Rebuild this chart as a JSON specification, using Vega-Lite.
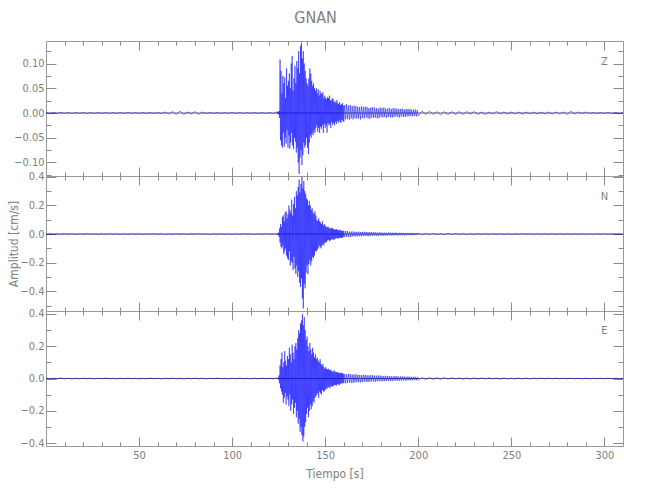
{
"$schema":"https://vega.github.io/schema/vega-lite/v6.json",
"padding":{"left":6,"top":10,"right":5,"bottom":5},
"title":{"text":"GNAN","fontSize":16,"fontWeight":"normal","color":"#808080","font":"DejaVu Sans Condensed, DejaVu Sans, sans-serif","anchor":"middle","offset":14},
"datasets":{"wave":[
{"t":0,"z":0.001,"n":-0.003,"e":0.002},{"t":2,"z":-0.001,"n":0.002,"e":-0.003},{"t":4,"z":0.001,"n":-0.003,"e":0.002},{"t":6,"z":-0.001,"n":0.002,"e":-0.002},{"t":8,"z":0.001,"n":-0.002,"e":0.003},{"t":10,"z":-0.001,"n":0.003,"e":-0.002},{"t":12,"z":0.001,"n":-0.002,"e":0.002},{"t":14,"z":-0.001,"n":0.002,"e":-0.003},{"t":16,"z":0.001,"n":-0.003,"e":0.002},{"t":18,"z":-0.001,"n":0.002,"e":-0.002},{"t":20,"z":0.001,"n":-0.002,"e":0.003},{"t":22,"z":-0.001,"n":0.003,"e":-0.002},{"t":24,"z":0.001,"n":-0.002,"e":0.002},{"t":26,"z":-0.001,"n":0.002,"e":-0.003},{"t":28,"z":0.001,"n":-0.003,"e":0.002},{"t":30,"z":-0.001,"n":0.002,"e":-0.002},{"t":32,"z":0.001,"n":-0.002,"e":0.003},{"t":34,"z":-0.001,"n":0.003,"e":-0.002},{"t":36,"z":0.001,"n":-0.002,"e":0.002},{"t":38,"z":-0.001,"n":0.002,"e":-0.003},{"t":40,"z":0.001,"n":-0.003,"e":0.002},{"t":42,"z":-0.001,"n":0.002,"e":-0.002},{"t":44,"z":0.001,"n":-0.002,"e":0.003},{"t":46,"z":-0.001,"n":0.003,"e":-0.002},{"t":48,"z":0.001,"n":-0.002,"e":0.002},{"t":50,"z":-0.001,"n":0.002,"e":-0.003},{"t":52,"z":0.001,"n":-0.003,"e":0.002},{"t":54,"z":-0.001,"n":0.002,"e":-0.002},{"t":56,"z":0.001,"n":-0.002,"e":0.003},{"t":58,"z":-0.001,"n":0.003,"e":-0.002},{"t":60,"z":0.001,"n":-0.002,"e":0.002},{"t":62,"z":-0.001,"n":0.002,"e":-0.003},{"t":64,"z":0.002,"n":-0.003,"e":0.002},{"t":66,"z":-0.002,"n":0.002,"e":-0.002},{"t":68,"z":0.003,"n":-0.002,"e":0.003},{"t":70,"z":-0.003,"n":0.003,"e":-0.002},{"t":72,"z":0.004,"n":-0.002,"e":0.002},{"t":74,"z":-0.003,"n":0.002,"e":-0.003},{"t":76,"z":0.002,"n":-0.003,"e":0.002},{"t":78,"z":-0.002,"n":0.002,"e":-0.002},{"t":80,"z":0.003,"n":-0.002,"e":0.003},{"t":82,"z":-0.003,"n":0.003,"e":-0.002},{"t":84,"z":0.002,"n":-0.002,"e":0.002},{"t":86,"z":-0.001,"n":0.002,"e":-0.003},{"t":88,"z":0.001,"n":-0.003,"e":0.002},{"t":90,"z":-0.001,"n":0.002,"e":-0.002},{"t":92,"z":0.001,"n":-0.002,"e":0.003},{"t":94,"z":-0.001,"n":0.003,"e":-0.002},{"t":96,"z":0.001,"n":-0.002,"e":0.002},{"t":98,"z":-0.001,"n":0.002,"e":-0.003},{"t":100,"z":0.001,"n":-0.003,"e":0.002},{"t":102,"z":-0.001,"n":0.002,"e":-0.002},{"t":104,"z":0.001,"n":-0.002,"e":0.003},{"t":106,"z":-0.001,"n":0.003,"e":-0.002},{"t":108,"z":0.001,"n":-0.002,"e":0.002},{"t":110,"z":-0.001,"n":0.002,"e":-0.003},{"t":112,"z":0.001,"n":-0.003,"e":0.002},{"t":114,"z":-0.001,"n":0.002,"e":-0.002},{"t":116,"z":0.001,"n":-0.002,"e":0.003},{"t":118,"z":-0.001,"n":0.003,"e":-0.002},{"t":120,"z":0.001,"n":-0.002,"e":0.002},{"t":122,"z":-0.001,"n":0.002,"e":-0.003},{"t":124,"z":0.002,"n":-0.003,"e":0.003},
{"t":124.25,"z":0.002,"n":-0.004,"e":0.003},{"t":124.5,"z":-0.002,"n":0.005,"e":-0.004},{"t":124.75,"z":0.003,"n":-0.006,"e":0.005},{"t":125,"z":-0.003,"n":0.01,"e":-0.008},{"t":125.25,"z":0.004,"n":-0.02,"e":0.02},{"t":125.5,"z":-0.01,"n":0.04,"e":-0.03},
{"t":125.75,"z":0.108,"n":-0.06,"e":0.08},{"t":126,"z":-0.055,"n":0.07,"e":-0.06},{"t":126.25,"z":0.085,"n":-0.09,"e":0.12},{"t":126.5,"z":-0.065,"n":0.05,"e":-0.08},{"t":126.75,"z":0.04,"n":-0.1,"e":0.16},{"t":127,"z":-0.07,"n":0.12,"e":-0.1},{"t":127.25,"z":0.075,"n":-0.08,"e":0.07},{"t":127.5,"z":-0.04,"n":0.13,"e":-0.15},{"t":127.75,"z":0.06,"n":-0.14,"e":0.1},{"t":128,"z":-0.068,"n":0.09,"e":-0.12},{"t":128.25,"z":0.072,"n":-0.12,"e":0.17},{"t":128.5,"z":-0.05,"n":0.15,"e":-0.09},{"t":128.75,"z":0.03,"n":-0.1,"e":0.11},{"t":129,"z":-0.062,"n":0.16,"e":-0.16},{"t":129.25,"z":0.09,"n":-0.15,"e":0.08},{"t":129.5,"z":-0.035,"n":0.11,"e":-0.11},{"t":129.75,"z":0.055,"n":-0.17,"e":0.14},{"t":130,"z":-0.07,"n":0.14,"e":-0.13},
{"t":130.25,"z":0.065,"n":-0.18,"e":0.12},{"t":130.5,"z":-0.045,"n":0.2,"e":-0.17},{"t":130.75,"z":0.08,"n":-0.12,"e":0.19},{"t":131,"z":-0.072,"n":0.17,"e":-0.1},{"t":131.25,"z":0.05,"n":-0.22,"e":0.15},{"t":131.5,"z":-0.06,"n":0.15,"e":-0.2},{"t":131.75,"z":0.1,"n":-0.19,"e":0.1},{"t":132,"z":-0.04,"n":0.24,"e":-0.16},{"t":132.25,"z":0.115,"n":-0.2,"e":0.21},{"t":132.5,"z":-0.066,"n":0.13,"e":-0.13},{"t":132.75,"z":0.045,"n":-0.25,"e":0.16},{"t":133,"z":-0.073,"n":0.21,"e":-0.22},{"t":133.25,"z":0.07,"n":-0.16,"e":0.12},{"t":133.5,"z":-0.05,"n":0.26,"e":-0.18},{"t":133.75,"z":0.095,"n":-0.24,"e":0.2},{"t":134,"z":-0.058,"n":0.18,"e":-0.15},{"t":134.25,"z":0.06,"n":-0.28,"e":0.22},{"t":134.5,"z":-0.08,"n":0.3,"e":-0.24},{"t":134.75,"z":0.105,"n":-0.22,"e":0.18},{"t":135,"z":-0.07,"n":0.27,"e":-0.2},
{"t":135.25,"z":0.09,"n":-0.3,"e":0.25},{"t":135.5,"z":-0.1,"n":0.33,"e":-0.28},{"t":135.75,"z":0.125,"n":-0.26,"e":0.3},{"t":136,"z":-0.123,"n":0.38,"e":-0.25},{"t":136.25,"z":0.08,"n":-0.34,"e":0.28},{"t":136.5,"z":-0.09,"n":0.29,"e":-0.33},{"t":136.75,"z":0.135,"n":-0.37,"e":0.34},{"t":137,"z":-0.075,"n":0.35,"e":-0.3},{"t":137.25,"z":0.142,"n":-0.31,"e":0.36},{"t":137.5,"z":-0.105,"n":0.4,"e":-0.35},{"t":137.75,"z":0.11,"n":-0.45,"e":0.4},{"t":138,"z":-0.085,"n":0.32,"e":-0.39},{"t":138.25,"z":0.125,"n":-0.52,"e":0.33},{"t":138.5,"z":-0.06,"n":0.37,"e":-0.36},{"t":138.75,"z":0.1,"n":-0.35,"e":0.38},{"t":139,"z":-0.07,"n":0.3,"e":-0.3},{"t":139.25,"z":0.085,"n":-0.38,"e":0.3},{"t":139.5,"z":-0.065,"n":0.28,"e":-0.27},
{"t":139.75,"z":0.07,"n":-0.27,"e":0.24},{"t":140,"z":-0.05,"n":0.25,"e":-0.22},{"t":140.25,"z":0.06,"n":-0.22,"e":0.26},{"t":140.5,"z":-0.07,"n":0.24,"e":-0.18},{"t":140.75,"z":0.055,"n":-0.28,"e":0.2},{"t":141,"z":-0.083,"n":0.2,"e":-0.24},{"t":141.25,"z":0.07,"n":-0.21,"e":0.17},{"t":141.5,"z":-0.06,"n":0.23,"e":-0.2},{"t":141.75,"z":0.09,"n":-0.18,"e":0.22},{"t":142,"z":-0.045,"n":0.2,"e":-0.16},{"t":142.25,"z":0.08,"n":-0.22,"e":0.18},{"t":142.5,"z":-0.05,"n":0.17,"e":-0.19},{"t":142.75,"z":0.065,"n":-0.19,"e":0.15},{"t":143,"z":-0.04,"n":0.18,"e":-0.17},{"t":143.25,"z":0.055,"n":-0.16,"e":0.19},{"t":143.5,"z":-0.045,"n":0.15,"e":-0.14},{"t":143.75,"z":0.06,"n":-0.17,"e":0.16},{"t":144,"z":-0.035,"n":0.14,"e":-0.15},{"t":144.25,"z":0.05,"n":-0.15,"e":0.13},{"t":144.5,"z":-0.04,"n":0.16,"e":-0.12},{"t":144.75,"z":0.045,"n":-0.12,"e":0.15},{"t":145,"z":-0.03,"n":0.13,"e":-0.11},
{"t":145.25,"z":0.05,"n":-0.12,"e":0.12},{"t":145.5,"z":-0.025,"n":0.1,"e":-0.1},{"t":145.75,"z":0.04,"n":-0.11,"e":0.13},{"t":146,"z":-0.038,"n":0.09,"e":-0.09},{"t":146.25,"z":0.048,"n":-0.1,"e":0.11},{"t":146.5,"z":-0.03,"n":0.11,"e":-0.12},{"t":146.75,"z":0.035,"n":-0.08,"e":0.1},{"t":147,"z":-0.04,"n":0.09,"e":-0.08},{"t":147.25,"z":0.045,"n":-0.09,"e":0.12},{"t":147.5,"z":-0.028,"n":0.08,"e":-0.09},{"t":147.75,"z":0.04,"n":-0.1,"e":0.09},{"t":148,"z":-0.032,"n":0.07,"e":-0.1},{"t":148.25,"z":0.038,"n":-0.08,"e":0.08},{"t":148.5,"z":-0.025,"n":0.09,"e":-0.07},{"t":148.75,"z":0.042,"n":-0.07,"e":0.09},{"t":149,"z":-0.04,"n":0.06,"e":-0.08},{"t":149.25,"z":0.03,"n":-0.08,"e":0.07},{"t":149.5,"z":-0.022,"n":0.07,"e":-0.08},{"t":149.75,"z":0.035,"n":-0.06,"e":0.06},{"t":150,"z":-0.03,"n":0.06,"e":-0.07},
{"t":150.25,"z":0.03,"n":-0.06,"e":0.07},{"t":150.5,"z":-0.025,"n":0.05,"e":-0.06},{"t":150.75,"z":0.028,"n":-0.055,"e":0.06},{"t":151,"z":-0.04,"n":0.05,"e":-0.065},{"t":151.25,"z":0.032,"n":-0.045,"e":0.055},{"t":151.5,"z":-0.02,"n":0.05,"e":-0.05},{"t":151.75,"z":0.03,"n":-0.04,"e":0.06},{"t":152,"z":-0.025,"n":0.045,"e":-0.055},{"t":152.25,"z":0.035,"n":-0.05,"e":0.05},{"t":152.5,"z":-0.022,"n":0.04,"e":-0.06},{"t":152.75,"z":0.026,"n":-0.045,"e":0.055},{"t":153,"z":-0.03,"n":0.038,"e":-0.045},{"t":153.25,"z":0.025,"n":-0.04,"e":0.05},{"t":153.5,"z":-0.018,"n":0.045,"e":-0.05},{"t":153.75,"z":0.03,"n":-0.035,"e":0.045},{"t":154,"z":-0.024,"n":0.04,"e":-0.05},{"t":154.25,"z":0.028,"n":-0.038,"e":0.04},{"t":154.5,"z":-0.02,"n":0.035,"e":-0.045},{"t":154.75,"z":0.022,"n":-0.04,"e":0.05},{"t":155,"z":-0.025,"n":0.03,"e":-0.04},{"t":155.25,"z":0.024,"n":-0.035,"e":0.045},{"t":155.5,"z":-0.018,"n":0.032,"e":-0.04},{"t":155.75,"z":0.02,"n":-0.03,"e":0.038},{"t":156,"z":-0.022,"n":0.035,"e":-0.045},{"t":156.25,"z":0.026,"n":-0.028,"e":0.04},{"t":156.5,"z":-0.016,"n":0.03,"e":-0.035},{"t":156.75,"z":0.02,"n":-0.032,"e":0.04},{"t":157,"z":-0.02,"n":0.026,"e":-0.038},{"t":157.25,"z":0.018,"n":-0.03,"e":0.035},{"t":157.5,"z":-0.015,"n":0.028,"e":-0.04},{"t":157.75,"z":0.022,"n":-0.025,"e":0.032},{"t":158,"z":-0.018,"n":0.03,"e":-0.035},{"t":158.25,"z":0.016,"n":-0.026,"e":0.036},{"t":158.5,"z":-0.02,"n":0.024,"e":-0.03},{"t":158.75,"z":0.018,"n":-0.028,"e":0.034},{"t":159,"z":-0.014,"n":0.022,"e":-0.03},{"t":159.25,"z":0.02,"n":-0.025,"e":0.032},{"t":159.5,"z":-0.016,"n":0.024,"e":-0.028},{"t":159.75,"z":0.015,"n":-0.02,"e":0.03},{"t":160,"z":-0.018,"n":0.022,"e":-0.03},
{"t":160.5,"z":0.016,"n":-0.02,"e":0.028},{"t":161,"z":-0.013,"n":0.022,"e":-0.03},{"t":161.5,"z":0.018,"n":-0.018,"e":0.026},{"t":162,"z":-0.012,"n":0.02,"e":-0.028},{"t":162.5,"z":0.015,"n":-0.019,"e":0.03},{"t":163,"z":-0.014,"n":0.017,"e":-0.025},{"t":163.5,"z":0.016,"n":-0.02,"e":0.027},{"t":164,"z":-0.011,"n":0.018,"e":-0.026},{"t":164.5,"z":0.014,"n":-0.016,"e":0.024},{"t":165,"z":-0.013,"n":0.018,"e":-0.027},{"t":165.5,"z":0.015,"n":-0.017,"e":0.025},{"t":166,"z":-0.01,"n":0.016,"e":-0.024},{"t":166.5,"z":0.014,"n":-0.018,"e":0.026},{"t":167,"z":-0.012,"n":0.015,"e":-0.022},{"t":167.5,"z":0.013,"n":-0.016,"e":0.024},{"t":168,"z":-0.011,"n":0.017,"e":-0.023},{"t":168.5,"z":0.012,"n":-0.015,"e":0.022},{"t":169,"z":-0.013,"n":0.014,"e":-0.024},{"t":169.5,"z":0.014,"n":-0.016,"e":0.021},{"t":170,"z":-0.01,"n":0.015,"e":-0.022},{"t":170.5,"z":0.012,"n":-0.014,"e":0.023},{"t":171,"z":-0.011,"n":0.016,"e":-0.02},{"t":171.5,"z":0.013,"n":-0.013,"e":0.022},{"t":172,"z":-0.009,"n":0.015,"e":-0.021},{"t":172.5,"z":0.012,"n":-0.014,"e":0.02},{"t":173,"z":-0.011,"n":0.013,"e":-0.022},{"t":173.5,"z":0.01,"n":-0.015,"e":0.019},{"t":174,"z":-0.012,"n":0.014,"e":-0.02},{"t":174.5,"z":0.011,"n":-0.012,"e":0.021},{"t":175,"z":-0.009,"n":0.013,"e":-0.018},{"t":175.5,"z":0.012,"n":-0.012,"e":0.02},{"t":176,"z":-0.01,"n":0.014,"e":-0.019},{"t":176.5,"z":0.011,"n":-0.011,"e":0.018},{"t":177,"z":-0.009,"n":0.012,"e":-0.02},{"t":177.5,"z":0.01,"n":-0.013,"e":0.017},{"t":178,"z":-0.011,"n":0.011,"e":-0.018},{"t":178.5,"z":0.009,"n":-0.012,"e":0.019},{"t":179,"z":-0.01,"n":0.012,"e":-0.016},{"t":179.5,"z":0.011,"n":-0.01,"e":0.018},{"t":180,"z":-0.008,"n":0.011,"e":-0.017},{"t":180.5,"z":0.01,"n":-0.011,"e":0.016},{"t":181,"z":-0.009,"n":0.01,"e":-0.017},{"t":181.5,"z":0.011,"n":-0.012,"e":0.015},{"t":182,"z":-0.008,"n":0.01,"e":-0.016},{"t":182.5,"z":0.009,"n":-0.011,"e":0.017},{"t":183,"z":-0.01,"n":0.009,"e":-0.015},{"t":183.5,"z":0.009,"n":-0.01,"e":0.016},{"t":184,"z":-0.008,"n":0.011,"e":-0.014},{"t":184.5,"z":0.01,"n":-0.009,"e":0.015},{"t":185,"z":-0.009,"n":0.01,"e":-0.016},{"t":185.5,"z":0.008,"n":-0.01,"e":0.014},{"t":186,"z":-0.009,"n":0.009,"e":-0.015},{"t":186.5,"z":0.01,"n":-0.01,"e":0.013},{"t":187,"z":-0.008,"n":0.009,"e":-0.014},{"t":187.5,"z":0.009,"n":-0.008,"e":0.015},{"t":188,"z":-0.007,"n":0.01,"e":-0.013},{"t":188.5,"z":0.009,"n":-0.009,"e":0.014},{"t":189,"z":-0.008,"n":0.008,"e":-0.013},{"t":189.5,"z":0.008,"n":-0.009,"e":0.012},{"t":190,"z":-0.009,"n":0.009,"e":-0.014},{"t":190.5,"z":0.008,"n":-0.008,"e":0.013},{"t":191,"z":-0.007,"n":0.009,"e":-0.012},{"t":191.5,"z":0.009,"n":-0.008,"e":0.013},{"t":192,"z":-0.008,"n":0.008,"e":-0.012},{"t":192.5,"z":0.007,"n":-0.009,"e":0.012},{"t":193,"z":-0.008,"n":0.007,"e":-0.013},{"t":193.5,"z":0.008,"n":-0.008,"e":0.011},{"t":194,"z":-0.007,"n":0.008,"e":-0.012},{"t":194.5,"z":0.008,"n":-0.007,"e":0.012},{"t":195,"z":-0.007,"n":0.008,"e":-0.011},{"t":195.5,"z":0.008,"n":-0.007,"e":0.011},{"t":196,"z":-0.006,"n":0.007,"e":-0.012},{"t":196.5,"z":0.007,"n":-0.008,"e":0.01},{"t":197,"z":-0.007,"n":0.007,"e":-0.011},{"t":197.5,"z":0.007,"n":-0.007,"e":0.011},{"t":198,"z":-0.006,"n":0.008,"e":-0.01},{"t":198.5,"z":0.007,"n":-0.006,"e":0.01},{"t":199,"z":-0.007,"n":0.007,"e":-0.011},{"t":199.5,"z":0.006,"n":-0.007,"e":0.01},{"t":200,"z":-0.006,"n":0.006,"e":-0.01},
{"t":202,"z":0.004,"n":-0.005,"e":0.006},{"t":204,"z":-0.003,"n":0.004,"e":-0.006},{"t":206,"z":0.004,"n":-0.004,"e":0.005},{"t":208,"z":-0.003,"n":0.005,"e":-0.006},{"t":210,"z":0.003,"n":-0.004,"e":0.005},{"t":212,"z":-0.004,"n":0.003,"e":-0.005},{"t":214,"z":0.003,"n":-0.004,"e":0.005},{"t":216,"z":-0.003,"n":0.004,"e":-0.004},{"t":218,"z":0.003,"n":-0.003,"e":0.005},{"t":220,"z":-0.003,"n":0.004,"e":-0.004},{"t":222,"z":0.003,"n":-0.003,"e":0.004},{"t":224,"z":-0.003,"n":0.003,"e":-0.005},{"t":226,"z":0.003,"n":-0.004,"e":0.004},{"t":228,"z":-0.002,"n":0.003,"e":-0.004},{"t":230,"z":0.003,"n":-0.003,"e":0.004},{"t":232,"z":-0.003,"n":0.003,"e":-0.004},{"t":234,"z":0.002,"n":-0.003,"e":0.004},{"t":236,"z":-0.003,"n":0.003,"e":-0.003},{"t":238,"z":0.002,"n":-0.003,"e":0.004},{"t":240,"z":-0.002,"n":0.003,"e":-0.003},{"t":242,"z":0.003,"n":-0.002,"e":0.003},{"t":244,"z":-0.002,"n":0.003,"e":-0.004},{"t":246,"z":0.002,"n":-0.003,"e":0.003},{"t":248,"z":-0.002,"n":0.002,"e":-0.003},{"t":250,"z":0.002,"n":-0.003,"e":0.003},{"t":252,"z":-0.002,"n":0.002,"e":-0.003},{"t":254,"z":0.002,"n":-0.002,"e":0.003},{"t":256,"z":-0.002,"n":0.003,"e":-0.003},{"t":258,"z":0.002,"n":-0.002,"e":0.003},{"t":260,"z":-0.002,"n":0.002,"e":-0.003},{"t":262,"z":0.002,"n":-0.002,"e":0.003},{"t":264,"z":-0.002,"n":0.002,"e":-0.002},{"t":266,"z":0.002,"n":-0.002,"e":0.003},{"t":268,"z":-0.002,"n":0.002,"e":-0.002},{"t":270,"z":0.002,"n":-0.002,"e":0.003},{"t":272,"z":-0.002,"n":0.002,"e":-0.002},{"t":274,"z":0.002,"n":-0.002,"e":0.002},{"t":276,"z":-0.002,"n":0.002,"e":-0.002},{"t":278,"z":0.002,"n":-0.002,"e":0.002},{"t":280,"z":-0.003,"n":0.002,"e":-0.002},{"t":282,"z":0.004,"n":-0.002,"e":0.002},{"t":284,"z":-0.002,"n":0.002,"e":-0.002},{"t":286,"z":0.002,"n":-0.002,"e":0.002},{"t":288,"z":-0.001,"n":0.002,"e":-0.002},{"t":290,"z":0.002,"n":-0.002,"e":0.002},{"t":292,"z":-0.001,"n":0.002,"e":-0.002},{"t":294,"z":0.001,"n":-0.002,"e":0.002},{"t":296,"z":-0.001,"n":0.002,"e":-0.002},{"t":298,"z":0.001,"n":-0.002,"e":0.002},{"t":300,"z":-0.001,"n":0.002,"e":-0.002},{"t":302,"z":0.001,"n":-0.002,"e":0.002},{"t":304,"z":-0.001,"n":0.002,"e":-0.002},{"t":306,"z":0.001,"n":-0.002,"e":0.002},{"t":308,"z":-0.001,"n":0.002,"e":-0.002},{"t":310,"z":0.001,"n":-0.001,"e":0.002}
]},
"spacing":0,
"bounds":"flush",
"vconcat":[
{"width":577,"height":135,
 "layer":[
  {"data":{"values":[{}]},"mark":{"type":"rule","color":"#000000","strokeWidth":0.6},"encoding":{"y":{"datum":0,"type":"quantitative","scale":{"domain":[-0.1273,0.1455],"nice":false,"zero":false},"axis":null}}},
  {"data":{"name":"wave"},"mark":{"type":"line","color":"#0000ff","strokeWidth":0.5},"encoding":{
    "x":{"field":"t","type":"quantitative","scale":{"domain":[0,310],"nice":false},"axis":{"orient":"bottom","values":[50,100,150,200,250,300],"tickSize":-9,"labels":false,"title":null}},
    "y":{"field":"z","type":"quantitative","scale":{"domain":[-0.1273,0.1455],"nice":false,"zero":false},"axis":{"orient":"left","values":[-0.1,-0.05,0,0.05,0.1],"format":".2f","tickSize":-10,"labelPadding":12,"title":null}}}},
  {"data":{"name":"wave"},"mark":{"type":"line","opacity":0},"encoding":{
    "x":{"field":"t","type":"quantitative","axis":{"orient":"bottom","values":[10,20,30,40,60,70,80,90,110,120,130,140,160,170,180,190,210,220,230,240,260,270,280,290],"tickSize":-4,"labels":false,"title":null}},
    "y":{"field":"z","type":"quantitative","axis":{"orient":"left","values":[-0.125,-0.075,-0.025,0.025,0.075,0.125],"tickSize":-5,"labels":false,"title":null}}}},
  {"data":{"name":"wave"},"mark":{"type":"line","opacity":0},"encoding":{
    "x":{"field":"t","type":"quantitative","axis":{"orient":"top","values":[50,100,150,200,250,300],"tickSize":-9,"labels":false,"title":null}},
    "y":{"field":"z","type":"quantitative","axis":{"orient":"right","values":[-0.1,-0.05,0,0.05,0.1],"tickSize":-10,"labels":false,"title":null}}}},
  {"data":{"name":"wave"},"mark":{"type":"line","opacity":0},"encoding":{
    "x":{"field":"t","type":"quantitative","axis":{"orient":"top","values":[10,20,30,40,60,70,80,90,110,120,130,140,160,170,180,190,210,220,230,240,260,270,280,290],"tickSize":-4,"labels":false,"title":null}},
    "y":{"field":"z","type":"quantitative","axis":{"orient":"right","values":[-0.125,-0.075,-0.025,0.025,0.075,0.125],"tickSize":-5,"labels":false,"title":null}}}},
  {"data":{"values":[{"label":"Z"}]},"mark":{"type":"text","fontSize":11,"color":"#808080","font":"DejaVu Sans Condensed, DejaVu Sans, sans-serif"},"encoding":{"x":{"datum":300,"type":"quantitative","axis":null},"y":{"datum":0.103,"type":"quantitative","axis":null},"text":{"field":"label"}}}
 ],
 "resolve":{"axis":{"x":"independent","y":"independent"}}
},
{"width":577,"height":135,
 "layer":[
  {"data":{"values":[{}]},"mark":{"type":"rule","color":"#000000","strokeWidth":0.6},"encoding":{"y":{"datum":0,"type":"quantitative","scale":{"domain":[-0.538,0.406],"nice":false,"zero":false},"axis":null}}},
  {"data":{"name":"wave"},"mark":{"type":"line","color":"#0000ff","strokeWidth":0.5},"encoding":{
    "x":{"field":"t","type":"quantitative","scale":{"domain":[0,310],"nice":false},"axis":{"orient":"bottom","values":[50,100,150,200,250,300],"tickSize":-9,"labels":false,"title":null}},
    "y":{"field":"n","type":"quantitative","scale":{"domain":[-0.538,0.406],"nice":false,"zero":false},"axis":{"orient":"left","values":[-0.4,-0.2,0,0.2,0.4],"format":".1f","tickSize":-10,"labelPadding":12,"title":"Amplitud [cm/s]","minExtent":23,"maxExtent":23,"titlePadding":3}}}},
  {"data":{"name":"wave"},"mark":{"type":"line","opacity":0},"encoding":{
    "x":{"field":"t","type":"quantitative","axis":{"orient":"bottom","values":[10,20,30,40,60,70,80,90,110,120,130,140,160,170,180,190,210,220,230,240,260,270,280,290],"tickSize":-4,"labels":false,"title":null}},
    "y":{"field":"n","type":"quantitative","axis":{"orient":"left","values":[-0.5,-0.3,-0.1,0.1,0.3],"tickSize":-5,"labels":false,"title":null}}}},
  {"data":{"name":"wave"},"mark":{"type":"line","opacity":0},"encoding":{
    "x":{"field":"t","type":"quantitative","axis":{"orient":"top","values":[50,100,150,200,250,300],"tickSize":-9,"labels":false,"title":null}},
    "y":{"field":"n","type":"quantitative","axis":{"orient":"right","values":[-0.4,-0.2,0,0.2,0.4],"tickSize":-10,"labels":false,"title":null}}}},
  {"data":{"name":"wave"},"mark":{"type":"line","opacity":0},"encoding":{
    "x":{"field":"t","type":"quantitative","axis":{"orient":"top","values":[10,20,30,40,60,70,80,90,110,120,130,140,160,170,180,190,210,220,230,240,260,270,280,290],"tickSize":-4,"labels":false,"title":null}},
    "y":{"field":"n","type":"quantitative","axis":{"orient":"right","values":[-0.5,-0.3,-0.1,0.1,0.3],"tickSize":-5,"labels":false,"title":null}}}},
  {"data":{"values":[{"label":"N"}]},"mark":{"type":"text","fontSize":11,"color":"#808080","font":"DejaVu Sans Condensed, DejaVu Sans, sans-serif"},"encoding":{"x":{"datum":300,"type":"quantitative","axis":null},"y":{"datum":0.26,"type":"quantitative","axis":null},"text":{"field":"label"}}}
 ],
 "resolve":{"axis":{"x":"independent","y":"independent"}}
},
{"width":577,"height":135,
 "layer":[
  {"data":{"values":[{}]},"mark":{"type":"rule","color":"#000000","strokeWidth":0.6},"encoding":{"y":{"datum":0,"type":"quantitative","scale":{"domain":[-0.418,0.418],"nice":false,"zero":false},"axis":null}}},
  {"data":{"name":"wave"},"mark":{"type":"line","color":"#0000ff","strokeWidth":0.5},"encoding":{
    "x":{"field":"t","type":"quantitative","scale":{"domain":[0,310],"nice":false},"axis":{"orient":"bottom","values":[50,100,150,200,250,300],"format":"d","tickSize":-9,"labelPadding":12,"title":"Tiempo [s]","minExtent":18,"maxExtent":18,"titlePadding":4}},
    "y":{"field":"e","type":"quantitative","scale":{"domain":[-0.418,0.418],"nice":false,"zero":false},"axis":{"orient":"left","values":[-0.4,-0.2,0,0.2,0.4],"format":".1f","tickSize":-10,"labelPadding":12,"title":null}}}},
  {"data":{"name":"wave"},"mark":{"type":"line","opacity":0},"encoding":{
    "x":{"field":"t","type":"quantitative","axis":{"orient":"bottom","values":[10,20,30,40,60,70,80,90,110,120,130,140,160,170,180,190,210,220,230,240,260,270,280,290],"tickSize":-4,"labels":false,"title":null}},
    "y":{"field":"e","type":"quantitative","axis":{"orient":"left","values":[-0.3,-0.1,0.1,0.3],"tickSize":-5,"labels":false,"title":null}}}},
  {"data":{"name":"wave"},"mark":{"type":"line","opacity":0},"encoding":{
    "x":{"field":"t","type":"quantitative","axis":{"orient":"top","values":[50,100,150,200,250,300],"tickSize":-9,"labels":false,"title":null}},
    "y":{"field":"e","type":"quantitative","axis":{"orient":"right","values":[-0.4,-0.2,0,0.2,0.4],"tickSize":-10,"labels":false,"title":null}}}},
  {"data":{"name":"wave"},"mark":{"type":"line","opacity":0},"encoding":{
    "x":{"field":"t","type":"quantitative","axis":{"orient":"top","values":[10,20,30,40,60,70,80,90,110,120,130,140,160,170,180,190,210,220,230,240,260,270,280,290],"tickSize":-4,"labels":false,"title":null}},
    "y":{"field":"e","type":"quantitative","axis":{"orient":"right","values":[-0.3,-0.1,0.1,0.3],"tickSize":-5,"labels":false,"title":null}}}},
  {"data":{"values":[{"label":"E"}]},"mark":{"type":"text","fontSize":11,"color":"#808080","font":"DejaVu Sans Condensed, DejaVu Sans, sans-serif"},"encoding":{"x":{"datum":300,"type":"quantitative","axis":null},"y":{"datum":0.293,"type":"quantitative","axis":null},"text":{"field":"label"}}}
 ],
 "resolve":{"axis":{"x":"independent","y":"independent"}}
}
],
"config":{
 "view":{"stroke":"#999999","strokeWidth":1},
 "axis":{"domain":false,"grid":false,"tickColor":"#8a8a8a","tickWidth":1,"labelColor":"#808080","labelFont":"DejaVu Sans Condensed, DejaVu Sans, sans-serif","labelFontSize":11,"titleFont":"DejaVu Sans Condensed, DejaVu Sans, sans-serif","titleFontSize":12,"titleFontWeight":"normal","titleColor":"#808080","labelFlush":false,"labelOverlap":false}
}
}
